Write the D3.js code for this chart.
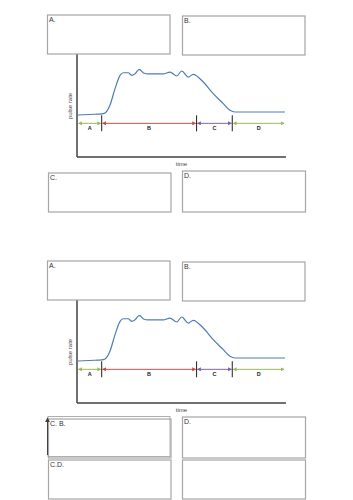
<!DOCTYPE html>
<html>
<head>
<meta charset="utf-8">
<script src="https://cdn.jsdelivr.net/npm/d3@7"></script>
<style>
  html, body { margin: 0; padding: 0; background: #fff; }
  svg { display: block; font-family: "Liberation Sans", Arial, sans-serif; }
</style>
</head>
<body>
<div id="chart"></div>
<script>
const W = 353, H = 500;

// pulse rate over time (arbitrary units, 0-100)
const timeVals  = [0.3, 8.6, 11.8, 13.4, 15.8, 18.2, 20.6, 22.2, 24.5, 26.2, 27.8, 29.8, 31.8, 34.1, 41.3, 44.5, 47.7, 50.1, 53.3, 55.6, 60.4, 65.2, 70, 73.2, 75.6, 80.4, 99.5];
const pulseVals = [41.2, 41.9, 42.2, 43.1, 51, 67, 80.1, 82.6, 82.6, 80.1, 81.7, 86, 82.4, 81.4, 81.4, 83.3, 79.4, 84.3, 78.4, 81.1, 73.5, 62.1, 52.3, 45.8, 44.1, 44.1, 44.1];

// phases along the time axis
const phaseNames  = ["A", "B", "C", "D"];
const phaseStarts = [0.3, 11.8, 57.2, 74.3];
const phaseEnds   = [11.8, 57.2, 74.3, 99.5];
const phaseColors = ["#9bbb59", "#c0504d", "#8064a2", "#9bbb59"];
const phaseLevel = 33;

const xTitle = "time";
const yTitle = "pulse rate";

const sheetLabels = [
  ["A.", "B.", "C.", "D."],
  ["A.", "B.", "C. B.", "D."],
];
const extraLabels = ["C.D.", ""];

const svg = d3.select("#chart").append("svg").attr("width", W).attr("height", H);

const defs = svg.append("defs");
phaseColors.forEach((c, i) => {
  defs.append("marker")
    .attr("id", "arr" + i)
    .attr("viewBox", "0 0 6 6")
    .attr("refX", 5).attr("refY", 3)
    .attr("markerWidth", 4).attr("markerHeight", 4)
    .attr("orient", "auto-start-reverse")
    .append("path").attr("d", "M0,0L6,3L0,6Z").attr("fill", c);
});
defs.append("marker")
  .attr("id", "upArr")
  .attr("viewBox", "0 0 6 6")
  .attr("refX", 5).attr("refY", 3)
  .attr("markerWidth", 5).attr("markerHeight", 5)
  .attr("orient", "auto")
  .append("path").attr("d", "M0,0L6,3L0,6Z").attr("fill", "#404040");

const x = d3.scaleLinear().domain([0, 100]).range([77, 286]);
const y = d3.scaleLinear().domain([0, 100]).range([157, 55]);

const line = d3.line()
  .x((d) => x(d[0]))
  .y((d) => y(d[1]))
  .curve(d3.curveMonotoneX);
const pts = timeVals.map((t, i) => [t, pulseVals[i]]);

function box(g, bx, by, bw, bh, label) {
  g.append("rect")
    .attr("x", bx).attr("y", by).attr("width", bw).attr("height", bh)
    .attr("fill", "#fff").attr("stroke", "#a6a6a6").attr("stroke-width", 1.2);
  if (label) {
    g.append("text")
      .attr("x", bx + 1.5).attr("y", by + 6.5)
      .attr("font-size", 7).attr("fill", "#333")
      .text(label);
  }
}

function drawSheet(offset, labels) {
  const g = svg.append("g").attr("transform", `translate(0,${offset})`);

  // axes
  g.append("line").attr("x1", x(0)).attr("x2", x(0)).attr("y1", 40).attr("y2", y(0))
    .attr("stroke", "#404040").attr("stroke-width", 1.5);
  g.append("line").attr("x1", x(0)).attr("x2", x(100)).attr("y1", y(0)).attr("y2", y(0))
    .attr("stroke", "#404040").attr("stroke-width", 1.5);

  g.append("text")
    .attr("x", (x(0) + x(100)) / 2).attr("y", y(0) + 9)
    .attr("text-anchor", "middle").attr("font-size", 6).attr("fill", "#444")
    .text(xTitle);
  g.append("text")
    .attr("transform", `translate(${x(0) - 5},${y(50)}) rotate(-90)`)
    .attr("text-anchor", "middle").attr("font-size", 6).attr("fill", "#444")
    .text(yTitle);

  g.append("path").datum(pts)
    .attr("d", line)
    .attr("fill", "none").attr("stroke", "#4f7bb5").attr("stroke-width", 1.2);

  phaseNames.forEach((name, i) => {
    g.append("line")
      .attr("x1", x(phaseStarts[i]) + 1).attr("x2", x(phaseEnds[i]) - 1)
      .attr("y1", y(phaseLevel)).attr("y2", y(phaseLevel))
      .attr("stroke", phaseColors[i]).attr("stroke-width", 1)
      .attr("marker-start", `url(#arr${i})`).attr("marker-end", `url(#arr${i})`);
    g.append("text")
      .attr("x", (x(phaseStarts[i]) + x(phaseEnds[i])) / 2).attr("y", y(phaseLevel) + 7)
      .attr("text-anchor", "middle").attr("font-size", 5.5).attr("font-weight", "bold")
      .attr("fill", "#222")
      .text(name);
  });
  phaseStarts.slice(1).forEach((t) => {
    g.append("line")
      .attr("x1", x(t)).attr("x2", x(t))
      .attr("y1", y(phaseLevel) - 8).attr("y2", y(phaseLevel) + 8)
      .attr("stroke", "#333").attr("stroke-width", 1.1);
  });

  box(g, 47.5, 15, 122.5, 39, labels[0]);
  box(g, 182.5, 16, 122.5, 39, labels[1]);
  box(g, 48.5, 173, 122.5, 39, labels[2]);
  box(g, 182.5, 171, 123, 41, labels[3]);
  return g;
}

drawSheet(0, sheetLabels[0]);
const g2 = drawSheet(246, sheetLabels[1]);

// overlapped leftovers on the second sheet
g2.append("rect").attr("x", 48).attr("y", 170.5).attr("width", 122).attr("height", 40)
  .attr("fill", "none").attr("stroke", "#a6a6a6").attr("stroke-width", 0.9);
g2.append("line").attr("x1", 47.5).attr("x2", 47.5).attr("y1", 209).attr("y2", 172)
  .attr("stroke", "#404040").attr("stroke-width", 1).attr("marker-end", "url(#upArr)");

box(svg, 48.5, 460, 122.5, 39, extraLabels[0]);
box(svg, 182.5, 460, 123, 39, extraLabels[1]);
</script>
</body>
</html>
